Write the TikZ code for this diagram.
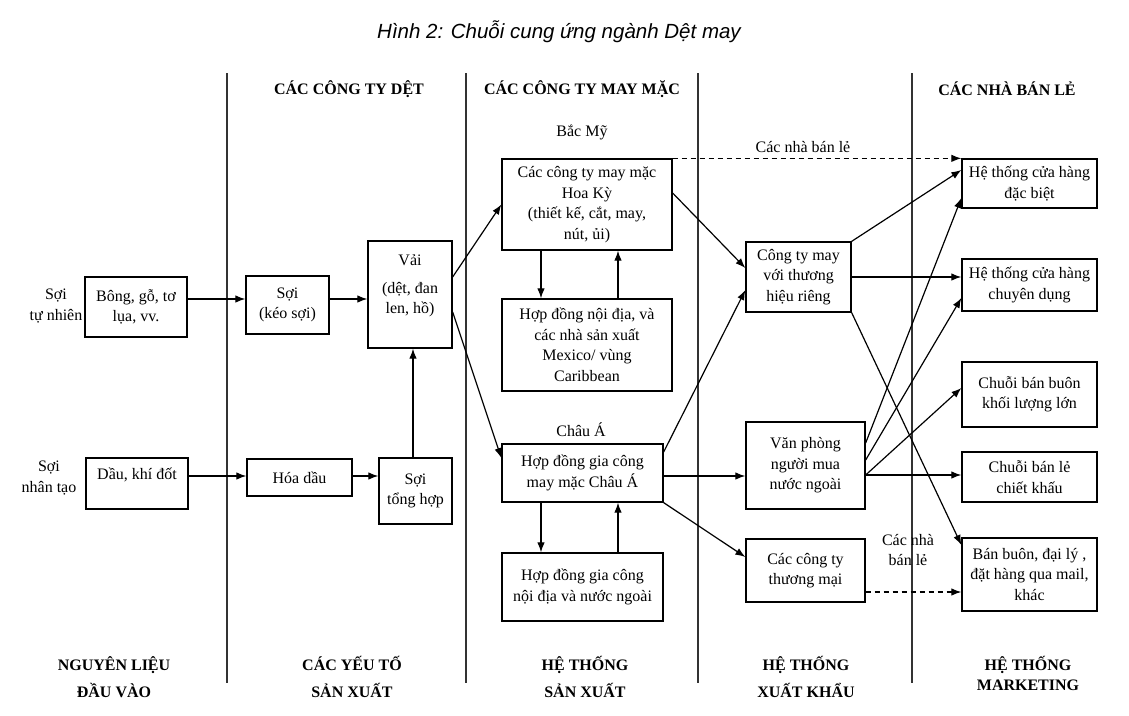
\documentclass[tikz,border=0pt]{standalone}
\usepackage{fontspec}
\setmainfont{Liberation Serif}
\newfontfamily\titlefont{Liberation Sans}
\usepackage{tikz}
\usetikzlibrary{arrows.meta}

\tikzset{
  hop/.style={draw, line width=1.3pt, align=center, inner sep=0pt},
  nhan/.style={align=center, inner sep=0pt},
  cot/.style={align=center, inner sep=0pt, font=\fontsize{16}{20}\selectfont\bfseries},
  mui/.style={line width=1.2pt, -{Latex[length=10pt,width=7.5pt]}},
  muidut/.style={mui, dashed, dash pattern=on 5pt off 4pt},
}

\begin{document}
\begin{tikzpicture}[x=1pt, y=-1pt, font=\fontsize{16}{20.5}\selectfont]
\fill[white] (0,0) rectangle (1129,715);
\useasboundingbox (0,0) rectangle (1129,715);

% tieu de
\node[nhan, font=\titlefont\itshape\fontsize{20.5}{24}\selectfont] (title) at (559,32) {Hình 2: Chuỗi cung ứng ngành Dệt may};

% duong phan cot
\foreach \x in {227,466,698,912}
  \draw[line width=1.4pt, black!80] (\x,73) -- (\x,683);

% tieu de cot
\node[cot] (hdDet) at (349,89) {CÁC CÔNG TY DỆT};
\node[cot] (hdMay) at (582,89) {CÁC CÔNG TY MAY MẶC};
\node[cot] (hdLe) at (1007,89) {CÁC NHÀ BÁN LẺ};
\node[cot] (ftNL) at (114,677) {NGUYÊN LIỆU\\[7pt]ĐẦU VÀO};
\node[cot] (ftYT) at (352,677) {CÁC YẾU TỐ\\[7pt]SẢN XUẤT};
\node[cot] (ftSX) at (585,677) {HỆ THỐNG\\[7pt]SẢN XUẤT};
\node[cot] (ftXK) at (806,677) {HỆ THỐNG\\[7pt]XUẤT KHẨU};
\node[cot] (ftMK) at (1028,673) {HỆ THỐNG\\MARKETING};

% nguyen lieu
\node[nhan] (tnLab) at (56,306) {Sợi\\tự nhiên};
\node[nhan] (ntLab) at (49,478) {Sợi\\nhân tạo};
\node[hop, minimum width=102pt, minimum height=60pt] (bong) at (136,307) {Bông, gỗ, tơ\\lụa, vv.};
\node[hop, minimum width=102pt, minimum height=51pt] (dau) at (137,483.5) {Dầu, khí đốt\\\mbox{}};

% cac cong ty det
\node[hop, minimum width=83pt, minimum height=58pt] (keosoi) at (287.5,305) {Sợi\\(kéo sợi)};
\node[hop, minimum width=84pt, minimum height=107pt] (vai) at (410,294.5) {Vải\\[7pt](dệt, đan\\len, hồ)\\\mbox{}};
\node[hop, minimum width=105pt, minimum height=37pt] (hoadau) at (299.5,477.5) {Hóa dầu};
\node[hop, minimum width=73pt, minimum height=66pt] (tonghop) at (415.5,491) {Sợi\\tổng hợp};

% cac cong ty may mac
\node[nhan] (bacmy) at (582,132) {Bắc Mỹ};
\node[hop, minimum width=170pt, minimum height=91pt] (hoaky) at (587,204.5) {Các công ty may mặc\\Hoa Kỳ\\(thiết kế, cắt, may,\\nút, ủi)};
\node[hop, minimum width=170pt, minimum height=92pt] (mexico) at (587,345) {Hợp đồng nội địa, và\\các nhà sản xuất\\Mexico/ vùng\\Caribbean};
\node[nhan] (chauaLab) at (581,430) {Châu Á};
\node[hop, minimum width=161pt, minimum height=58pt] (chaua) at (582.5,473) {Hợp đồng gia công\\may mặc Châu Á};
\node[hop, minimum width=161pt, minimum height=68pt] (giacong) at (582.5,587) {Hợp đồng gia công\\nội địa và nước ngoài};

% he thong xuat khau
\node[hop, minimum width=105pt, minimum height=70pt] (thuonghieu) at (798.5,277) {Công ty may\\với thương\\hiệu riêng};
\node[hop, minimum width=119pt, minimum height=87pt] (vanphong) at (805.5,465.5) {Văn phòng\\người mua\\nước ngoài};
\node[hop, minimum width=119pt, minimum height=63pt] (thuongmai) at (805.5,570.5) {Các công ty\\thương mại};
\node[nhan] (leTren) at (803,147) {Các nhà bán lẻ};
\node[nhan] (leDuoi) at (908,550) {Các nhà\\bán lẻ};

% cac nha ban le
\node[hop, minimum width=135pt, minimum height=49pt] (dacbiet) at (1029.5,183.5) {Hệ thống cửa hàng\\đặc biệt};
\node[hop, minimum width=135pt, minimum height=52pt] (chuyendung) at (1029.5,285) {Hệ thống cửa hàng\\chuyên dụng};
\node[hop, minimum width=135pt, minimum height=65pt] (buonlon) at (1029.5,394.5) {Chuỗi bán buôn\\khối lượng lớn};
\node[hop, minimum width=135pt, minimum height=50pt] (chietkhau) at (1029.5,477) {Chuỗi bán lẻ\\chiết khấu};
\node[hop, minimum width=135pt, minimum height=73pt] (daily) at (1029.5,574.5) {Bán buôn, đại lý ,\\đặt hàng qua mail,\\khác};

% mui ten
\draw[mui] ([yshift=8pt]bong.east) -- ([yshift=8pt]bong.east -| keosoi.west);
\draw[mui] ([yshift=6pt]keosoi.east) -- ([yshift=6pt]keosoi.east -| vai.west);
\draw[mui] ([yshift=7.5pt]dau.east) -- ([yshift=7.5pt]dau.east -| hoadau.west);
\draw[mui] ([yshift=1.5pt]hoadau.east) -- ([yshift=1.5pt]hoadau.east -| tonghop.west);
\draw[mui] ([xshift=-2.5pt]tonghop.north) -- ([xshift=-2.5pt]tonghop.north |- vai.south);
\draw[mui] ([yshift=17.5pt]vai.east) -- (hoaky.west);
\draw[mui] ([yshift=-17.5pt]vai.east) -- ([yshift=15pt]chaua.west);
\draw[mui] ([xshift=-46pt]hoaky.south) -- ([xshift=-46pt]hoaky.south |- mexico.north);
\draw[mui] ([xshift=31pt]mexico.north) -- ([xshift=31pt]mexico.north |- hoaky.south);
\draw[mui] ([xshift=-41.5pt]chaua.south) -- ([xshift=-41.5pt]chaua.south |- giacong.north);
\draw[mui] ([xshift=35.5pt]giacong.north) -- ([xshift=35.5pt]giacong.north |- chaua.south);
\draw[mui] ([yshift=11.5pt]hoaky.east) -- ([yshift=9pt]thuonghieu.west);
\draw[mui] ([yshift=21pt]chaua.east) -- ([yshift=-13pt]thuonghieu.west);
\draw[mui] ([yshift=-3pt]chaua.east) -- ([yshift=-3pt]chaua.east -| vanphong.west);
\draw[mui] (chaua.south east) -- ([yshift=13.5pt]thuongmai.west);
\draw[mui] (thuonghieu.north east) -- ([yshift=13.5pt]dacbiet.west);
\draw[mui] (thuonghieu.east) -- (thuonghieu.east -| chuyendung.west);
\draw[mui] (thuonghieu.south east) -- ([yshift=29.5pt]daily.west);
\draw[mui] ([yshift=22.5pt]vanphong.east) -- ([yshift=-14.5pt]dacbiet.west);
\draw[mui] ([yshift=5.5pt]vanphong.east) -- ([yshift=-13pt]chuyendung.west);
\draw[mui] ([yshift=-9.5pt]vanphong.east) -- ([yshift=6.5pt]buonlon.west);
\draw[mui] ([yshift=-9.5pt]vanphong.east) -- ([yshift=-9.5pt]vanphong.east -| chietkhau.west);
\draw[muidut] (hoaky.north east) -- (dacbiet.north west);
\draw[muidut] ([yshift=-21.5pt]thuongmai.east) -- ([yshift=-21.5pt]thuongmai.east -| daily.west);
\end{tikzpicture}
\end{document}
